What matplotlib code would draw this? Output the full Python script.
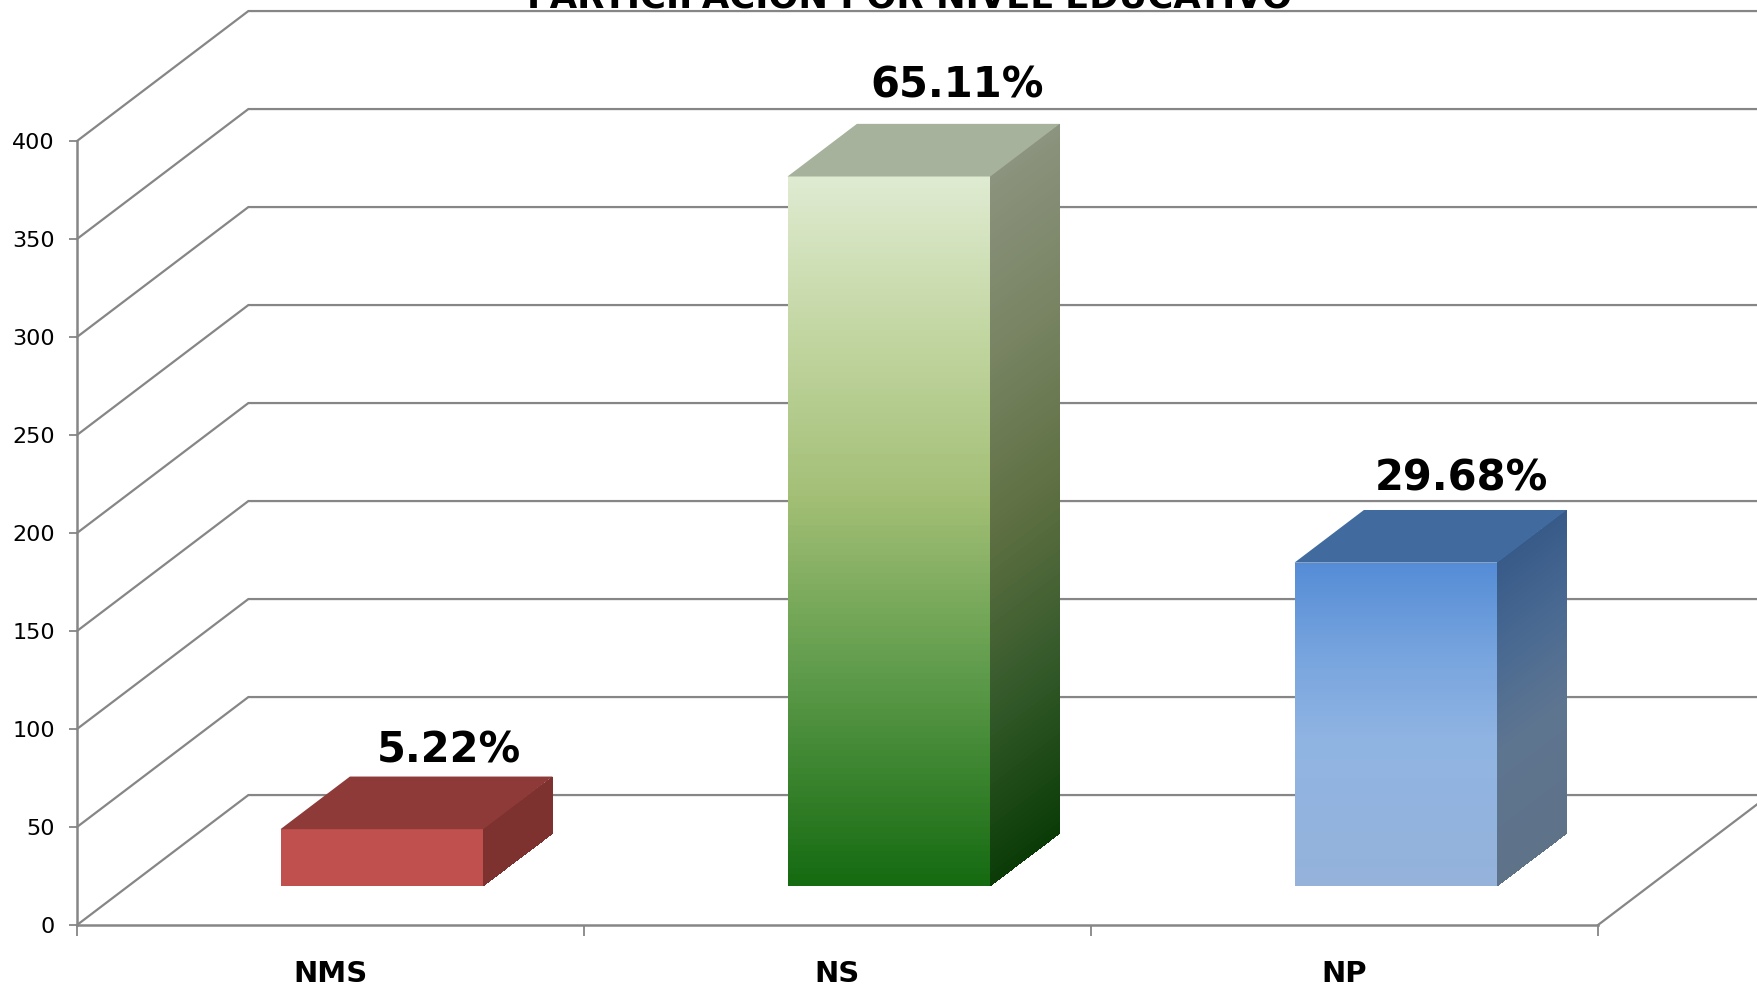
import matplotlib
matplotlib.use("Agg")
import matplotlib.pyplot as plt
import numpy as np

categories = ["NMS", "NS", "NP"]
values = [29, 362, 165]
labels = ["5.22%", "65.11%", "29.68%"]
y_ticks = [0, 50, 100, 150, 200, 250, 300, 350, 400]
title = "PARTICIPACIÓN POR NIVEL EDUCATIVO"

# gradient stops, (position from top, colour)
front_colors = [
    [(0, "#C0504D"), (1, "#C0504D")],
    [(0, "#DFEBD2"), (0.2, "#C5D8A6"), (0.45, "#A3BF76"), (0.7, "#5E9B4A"), (1, "#146A10")],
    [(0, "#548CD6"), (0.3, "#78A5DE"), (0.55, "#90B4E2"), (1, "#94B2DA")],
]
side_colors = [
    [(0, "#7D3230"), (1, "#7D3230")],
    [(0, "#8C937E"), (0.25, "#788463"), (0.5, "#5F7043"), (0.75, "#34592A"), (1, "#0A3C06")],
    [(0, "#375A88"), (0.3, "#4A6A92"), (0.6, "#5E7590"), (1, "#5E7288")],
]
top_colors = ["#8E3A39", "#A6B29B", "#416B9F"]
label_dx = [96, 83, 80]
label_dy = [79, 91, 84]

W, H = 1758, 989
DEPTH_X = 0.338   # category units
DEPTH_Y = 66.3    # value units
D0, D1 = 0.30, 0.705
BAR_L, BAR_R = 0.30, 0.70
GRID = "#868686"


def proj(x, y, d):
    return x + d * DEPTH_X, y + d * DEPTH_Y


def ramp(stops, n=120):
    pos = [s[0] for s in stops]
    rgb = np.array([matplotlib.colors.to_rgb(s[1]) for s in stops])
    t = (np.arange(n) + 0.5) / n
    return np.stack([np.interp(t, pos, rgb[:, i]) for i in range(3)], axis=1)


def gradient_face(ax, x0, x1, d0, d1, val, stops, base=0.0):
    # t runs from the top of the bar to the bottom
    n = 120
    t = np.linspace(0, 1, n + 1)
    yy = val + (base - val) * t
    px = np.empty((n + 1, 2))
    py = np.empty((n + 1, 2))
    for j, (xv, dv) in enumerate([(x0, d0), (x1, d1)]):
        px[:, j], py[:, j] = proj(xv, yy, dv)
    cols = ramp(stops, n)[:, None, :]
    ax.pcolormesh(px, py, cols, shading="flat", antialiased=False,
                  linewidth=0, zorder=3, clip_on=False)


fig = plt.figure(figsize=(W / 100, H / 100), dpi=100)
ax = fig.add_axes([77 / W, (H - 925) / H, (1598 - 77) / W, 784 / H])
ax.set_xlim(0, 3)
ax.set_ylim(0, 400)

# walls
for v in y_ticks:
    x0, y0 = proj(0, v, 0)
    x1, y1 = proj(0, v, 1)
    x2, y2 = proj(3, v, 1)
    ax.plot([x0, x1, x2], [y0, y1, y2], color=GRID, lw=1.6, clip_on=False, zorder=1,
            solid_joinstyle="miter")
x0, y0 = proj(3, 0, 0)
x1, y1 = proj(3, 0, 1)
ax.plot([x0, x1], [y0, y1], color=GRID, lw=1.6, clip_on=False, zorder=1)

# bars
for i, val in enumerate(values):
    left = i + BAR_L
    right = i + BAR_R
    gradient_face(ax, left, right, D0, D0, val, front_colors[i])
    gradient_face(ax, right, right, D0, D1, val, side_colors[i])
    top = [proj(left, val, D0), proj(right, val, D0), proj(right, val, D1), proj(left, val, D1)]
    ax.fill([p[0] for p in top], [p[1] for p in top], color=top_colors[i], lw=0,
            zorder=3, clip_on=False)
    ax.annotate(labels[i], xy=proj(left, val, D0), xytext=(label_dx[i] * 0.72, label_dy[i] * 0.72),
                textcoords="offset points", ha="left", va="center", fontsize=30,
                fontweight="bold", color="black", annotation_clip=False, zorder=5)

for s in ["top", "right"]:
    ax.spines[s].set_visible(False)
for s in ["left", "bottom"]:
    ax.spines[s].set_color(GRID)
    ax.spines[s].set_linewidth(1.8)
ax.patch.set_visible(False)

ax.set_yticks(y_ticks)
ax.tick_params(axis="y", length=6, width=1.3, color=GRID, labelsize=16, pad=10)
ax.set_xticks([0, 1, 2, 3])
ax.set_xticklabels([])
ax.tick_params(axis="x", which="major", length=8, width=1.3, color=GRID)
ax.set_xticks([0.5, 1.5, 2.5], minor=True)
ax.set_xticklabels(categories, minor=True, fontsize=21, fontweight="bold")
ax.tick_params(axis="x", which="minor", length=0, pad=25)

fig.text(910 / W, 1 - 8 / H, title, ha="center", va="baseline", fontsize=25.5, fontweight="bold")

fig.savefig("out.png", dpi=100)
